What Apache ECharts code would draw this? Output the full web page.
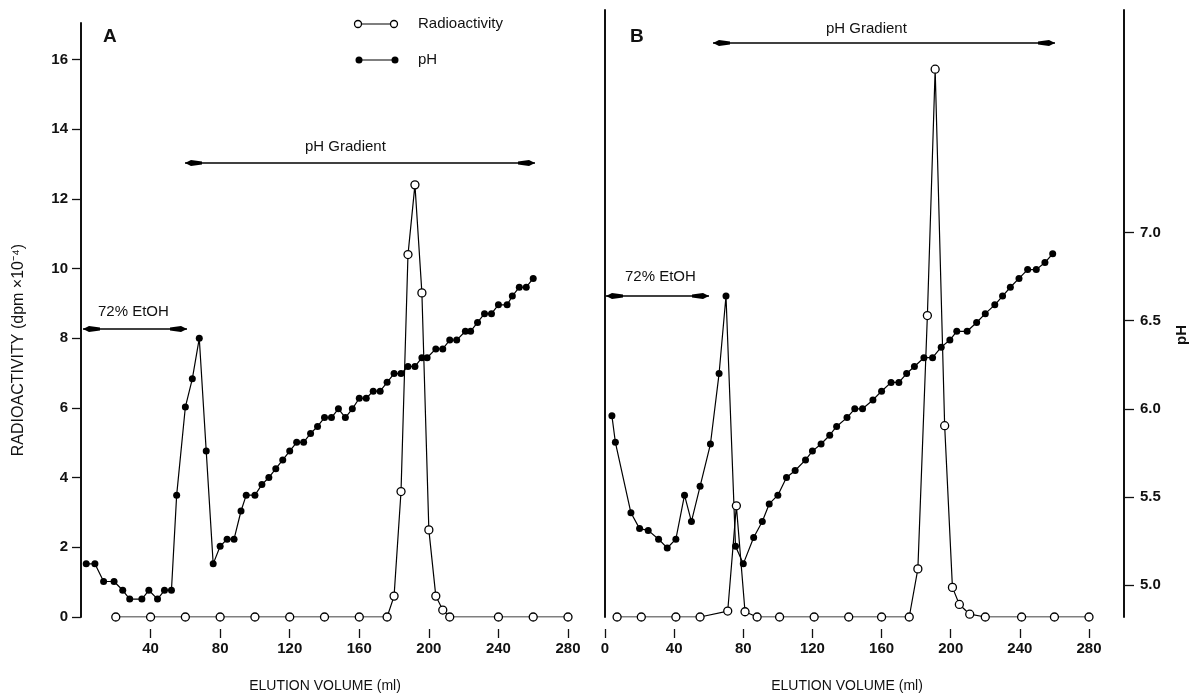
<!DOCTYPE html>
<html><head><meta charset="utf-8">
<script src="https://cdn.jsdelivr.net/npm/echarts@6/dist/echarts.min.js"></script>
<style>html,body{margin:0;padding:0;background:#fff}#c{width:1195px;height:696px}</style>
</head><body><div id="c"></div>
<script>
// ---- tick labels ----
const xTicksA = [40, 80, 120, 160, 200, 240, 280];
const xTicksB = [0, 40, 80, 120, 160, 200, 240, 280];
const radTicks = [0, 2, 4, 6, 8, 10, 12, 14, 16];
const phTicks = [5.0, 5.5, 6.0, 6.5, 7.0];

// ---- Panel A: radioactivity (dpm x10^-4) ----
const aRadVol = [20, 40, 60, 80, 100, 120, 140, 160, 176, 180, 184, 188, 192, 196, 200, 204, 208, 212, 240, 260, 280];
const aRadVal = [0, 0, 0, 0, 0, 0, 0, 0, 0, 0.6, 3.6, 10.4, 12.4, 9.3, 2.5, 0.6, 0.2, 0, 0, 0, 0];
// ---- Panel A: pH ----
const aPhVol = [3, 8, 13, 19, 24, 28, 35, 39, 44, 48, 52, 55, 60, 64, 68, 72, 76, 80, 84, 88, 92, 95, 100, 104, 108, 112, 116, 120, 124, 128, 132, 136, 140, 144, 148, 152, 156, 160, 164, 168, 172, 176, 180, 184, 188, 192, 196, 199, 204, 208, 212, 216, 221, 224, 228, 232, 236, 240, 245, 248, 252, 256, 260];
const aPhVal = [5.12, 5.12, 5.02, 5.02, 4.97, 4.92, 4.92, 4.97, 4.92, 4.97, 4.97, 5.51, 6.01, 6.17, 6.40, 5.76, 5.12, 5.22, 5.26, 5.26, 5.42, 5.51, 5.51, 5.57, 5.61, 5.66, 5.71, 5.76, 5.81, 5.81, 5.86, 5.90, 5.95, 5.95, 6.00, 5.95, 6.00, 6.06, 6.06, 6.10, 6.10, 6.15, 6.20, 6.20, 6.24, 6.24, 6.29, 6.29, 6.34, 6.34, 6.39, 6.39, 6.44, 6.44, 6.49, 6.54, 6.54, 6.59, 6.59, 6.64, 6.69, 6.69, 6.74];

// ---- Panel B: radioactivity ----
const bRadVol = [7, 21, 41, 55, 71, 76, 81, 88, 101, 121, 141, 160, 176, 181, 186.5, 191, 196.5, 201, 205, 211, 220, 241, 260, 280];
const bRadVal = [0, 0, 0, 0, 0.17, 3.19, 0.15, 0, 0, 0, 0, 0, 0, 1.38, 8.65, 15.72, 5.49, 0.85, 0.36, 0.08, 0, 0, 0, 0];
// ---- Panel B: pH ----
const bPhVol = [4, 6, 15, 20, 25, 31, 36, 41, 46, 50, 55, 61, 66, 70, 75.5, 80, 86, 91, 95, 100, 105, 110, 116, 120, 125, 130, 134, 140, 144.5, 149, 155, 160, 165.5, 170, 174.5, 179, 184.5, 189.5, 194.5, 199.5, 203.5, 209.5, 215, 220, 225.5, 230, 234.5, 239.5, 244.5, 249.5, 254.5, 259];
const bPhVal = [5.96, 5.81, 5.41, 5.32, 5.31, 5.26, 5.21, 5.26, 5.51, 5.36, 5.56, 5.80, 6.20, 6.64, 5.22, 5.12, 5.27, 5.36, 5.46, 5.51, 5.61, 5.65, 5.71, 5.76, 5.80, 5.85, 5.90, 5.95, 6.00, 6.00, 6.05, 6.10, 6.15, 6.15, 6.20, 6.24, 6.29, 6.29, 6.35, 6.39, 6.44, 6.44, 6.49, 6.54, 6.59, 6.64, 6.69, 6.74, 6.79, 6.79, 6.83, 6.88];

const zip = (xs, ys) => xs.map((x, i) => [x, ys[i]]);
const FONT = '"Liberation Sans", Arial, Helvetica, sans-serif';
const INK = '#111';

function xAxisCfg(grid, ticks) {
  return {
    type: 'value', gridIndex: grid, min: 0, max: 280, interval: 40,
    offset: 12,
    splitLine: { show: false },
    axisLine: { show: false, onZero: false },
    axisTick: { show: true, length: 9, customValues: ticks, lineStyle: { color: INK, width: 1.3 } },
    axisLabel: { customValues: ticks, margin: 12, color: INK, fontSize: 15, fontWeight: 'bold', fontFamily: FONT }
  };
}

const lineStyle = { color: '#000', width: 1.2 };
const openItem = { color: '#fff', borderColor: '#000', borderWidth: 1.3 };
const filledItem = { color: '#000', borderColor: '#000', borderWidth: 0 };

const option = {
  animation: false,
  backgroundColor: '#fff',
  grid: [
    { left: 81, top: 23, width: 487, height: 594 },
    { left: 605, top: 10, width: 484, height: 607 }
  ],
  xAxis: [xAxisCfg(0, xTicksA), xAxisCfg(1, xTicksB)],
  yAxis: [
    { type: 'value', gridIndex: 0, position: 'left', min: 0, max: 17.045, interval: 2,
      splitLine: { show: false },
      axisLine: { show: true, lineStyle: { color: INK, width: 2 } },
      axisTick: { show: true, length: 9, customValues: radTicks, lineStyle: { color: INK, width: 1.3 } },
      axisLabel: { customValues: radTicks, margin: 13, color: INK, fontSize: 15, fontWeight: 'bold', fontFamily: FONT } },
    { type: 'value', gridIndex: 0, show: false, min: 4.8184, max: 8.1896 },
    { type: 'value', gridIndex: 1, position: 'left', min: 0, max: 17.418,
      splitLine: { show: false },
      axisLine: { show: true, lineStyle: { color: INK, width: 2 } },
      axisTick: { show: false }, axisLabel: { show: false } },
    { type: 'value', gridIndex: 1, position: 'right', offset: 35, min: 4.8184, max: 8.2634, interval: 0.5,
      splitLine: { show: false },
      axisLine: { show: true, lineStyle: { color: INK, width: 2 } },
      axisTick: { show: true, length: 10, customValues: phTicks, lineStyle: { color: INK, width: 1.3 } },
      axisLabel: { customValues: phTicks, margin: 16, color: INK, fontSize: 15, fontWeight: 'bold', fontFamily: FONT,
        formatter: v => Number(v).toFixed(1) } }
  ],
  series: [
    { name: 'pH A', type: 'line', xAxisIndex: 0, yAxisIndex: 1, data: zip(aPhVol, aPhVal),
      symbol: 'circle', symbolSize: 7, showAllSymbol: true, lineStyle, itemStyle: filledItem, z: 2 },
    { name: 'Radioactivity A', type: 'line', xAxisIndex: 0, yAxisIndex: 0, data: zip(aRadVol, aRadVal),
      symbol: 'circle', symbolSize: 8, showAllSymbol: true, lineStyle, itemStyle: openItem, z: 3 },
    { name: 'pH B', type: 'line', xAxisIndex: 1, yAxisIndex: 3, data: zip(bPhVol, bPhVal),
      symbol: 'circle', symbolSize: 7, showAllSymbol: true, lineStyle, itemStyle: filledItem, z: 2 },
    { name: 'Radioactivity B', type: 'line', xAxisIndex: 1, yAxisIndex: 2, data: zip(bRadVol, bRadVal),
      symbol: 'circle', symbolSize: 8, showAllSymbol: true, lineStyle, itemStyle: openItem, z: 3 }
  ]
};

// ---- annotations ----
function arrow(x0, x1, y) {
  const head = (tip, dir) => ({
    type: 'polygon',
    shape: { points: [[tip, y], [tip + dir * 6, y - 3], [tip + dir * 17, y - 1.5], [tip + dir * 17, y + 1.5], [tip + dir * 6, y + 3]] },
    style: { fill: '#000' }
  });
  return [
    { type: 'line', shape: { x1: x0, y1: y, x2: x1, y2: y }, style: { stroke: '#000', lineWidth: 1.3 } },
    head(x0, 1), head(x1, -1)
  ];
}
function txt(x, y, s, size, weight, align) {
  return { type: 'text', x, y, style: { text: s, fill: INK, font: (weight || 'normal') + ' ' + size + 'px ' + FONT,
    textAlign: align || 'left', textVerticalAlign: 'middle' } };
}
const g = [];
g.push(...arrow(185, 535, 163));
g.push(txt(305, 147, 'pH Gradient', 15));
g.push(...arrow(83, 187, 329));
g.push(txt(98, 312, '72% EtOH', 15));
g.push(...arrow(713, 1055, 43));
g.push(txt(826, 29, 'pH Gradient', 15));
g.push(...arrow(606, 709, 296));
g.push(txt(625, 277, '72% EtOH', 15));
g.push(txt(103, 37, 'A', 19, 'bold'));
g.push(txt(630, 37, 'B', 19, 'bold'));
// legend
g.push({ type: 'line', shape: { x1: 358, y1: 24, x2: 394, y2: 24 }, style: { stroke: '#000', lineWidth: 1.2 } });
g.push({ type: 'circle', shape: { cx: 358, cy: 24, r: 3.5 }, style: { fill: '#fff', stroke: '#000', lineWidth: 1.3 } });
g.push({ type: 'circle', shape: { cx: 394, cy: 24, r: 3.5 }, style: { fill: '#fff', stroke: '#000', lineWidth: 1.3 } });
g.push(txt(418, 24, 'Radioactivity', 15));
g.push({ type: 'line', shape: { x1: 359, y1: 60, x2: 395, y2: 60 }, style: { stroke: '#000', lineWidth: 1.2 } });
g.push({ type: 'circle', shape: { cx: 359, cy: 60, r: 3.5 }, style: { fill: '#000' } });
g.push({ type: 'circle', shape: { cx: 395, cy: 60, r: 3.5 }, style: { fill: '#000' } });
g.push(txt(418, 60, 'pH', 15));
// axis titles
g.push(txt(325, 686, 'ELUTION VOLUME (ml)', 14, 'normal', 'center'));
g.push(txt(847, 686, 'ELUTION VOLUME (ml)', 14, 'normal', 'center'));
g.push({ type: 'text', x: 19, y: 350, rotation: Math.PI / 2,
  style: { text: 'RADIOACTIVITY (dpm ×10⁻⁴)', fill: INK, font: 'normal 16px ' + FONT, textAlign: 'center', textVerticalAlign: 'middle' } });
g.push({ type: 'text', x: 1182, y: 335, rotation: Math.PI / 2,
  style: { text: 'pH', fill: INK, font: 'bold 15px ' + FONT, textAlign: 'center', textVerticalAlign: 'middle' } });
option.graphic = { elements: g };

const chart = echarts.init(document.getElementById('c'), null, { renderer: 'canvas' });
chart.setOption(option);
</script>
</body></html>
